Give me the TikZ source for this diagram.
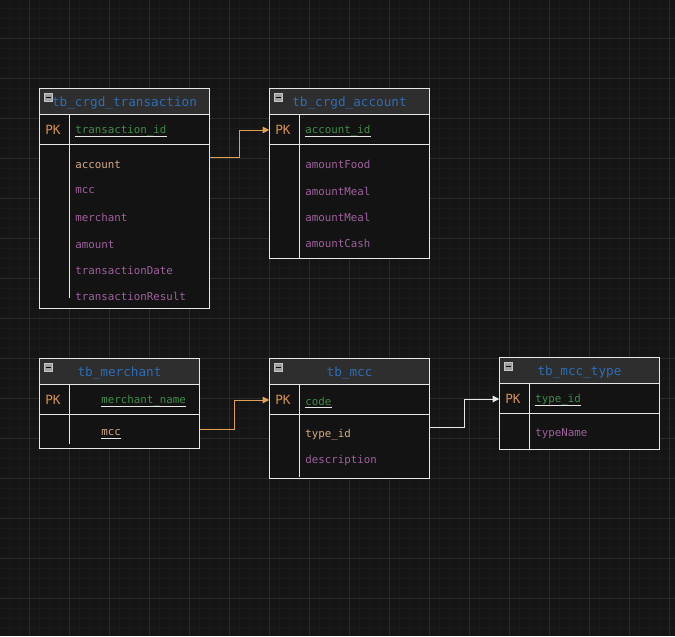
\documentclass[tikz,border=0pt]{standalone}
\usepackage{fontspec}
\setmonofont{DejaVu Sans Mono}
\usetikzlibrary{fit,arrows.meta}

\definecolor{bgcol}{HTML}{151515}
\definecolor{minorcol}{HTML}{1A1A1A}
\definecolor{majorcol}{HTML}{2A2A2A}
\definecolor{tablecol}{HTML}{131313}
\definecolor{headcol}{HTML}{2E2E2E}
\definecolor{rulecol}{HTML}{E8E8E8}
\definecolor{titlecol}{HTML}{2D6DB4}
\definecolor{pkcol}{HTML}{D6924A}
\definecolor{fkcol}{HTML}{D4AA7D}
\definecolor{fieldcol}{HTML}{A0609F}
\definecolor{keycol}{HTML}{3D8C47}
\definecolor{linkcol}{HTML}{E0A050}

\tikzset{
  tablebody/.style={inner sep=0pt,fill=tablecol},
  tablerule/.style={draw=rulecol,line width=0.75pt},
  headbar/.style={fill=headcol},
  title/.style={inner sep=0pt,font=\ttfamily\fontsize{9.5}{11}\selectfont,text=titlecol},
  pkmark/.style={anchor=west,inner sep=0pt,font=\ttfamily\fontsize{9.5}{11}\selectfont,text=pkcol},
  field/.style={anchor=west,inner sep=0pt,font=\ttfamily\fontsize{8.1}{10}\selectfont,text=fieldcol},
  keyfield/.style={field,text=keycol},
  fkfield/.style={field,text=fkcol},
  uline/.style={draw=rulecol,line width=0.6pt},
  minusbox/.style={fill=gray!75,draw=gray!45,line width=0.5pt},
  link/.style={draw=linkcol,line width=0.75pt,-{Triangle[length=5pt,width=5pt]}},
  whitelink/.style={link,draw=rulecol},
}

\begin{document}
\begin{tikzpicture}[x=0.75pt,y=0.75pt,yscale=-1,xscale=1]
    \useasboundingbox (0,0) rectangle (675,636);
    \fill[bgcol] (0,0) rectangle (675,636);

    % Grid
    \foreach \x in {9.5,19.5,...,669.5} \draw[minorcol,line width=0.5pt] (\x,0) -- (\x,636);
    \foreach \y in {8.5,18.5,...,628.5} \draw[minorcol,line width=0.5pt] (0,\y) -- (675,\y);
    \foreach \x in {29.5,69.5,...,669.5} \draw[majorcol,line width=0.75pt] (\x,0) -- (\x,636);
    \foreach \y in {38.5,78.5,...,618.5} \draw[majorcol,line width=0.75pt] (0,\y) -- (675,\y);

    % Table tb_crgd_transaction
    \node[tablebody,fit={(39.5,88.5) (209.5,308.5)}] (trans) {};
    \fill[headbar] (39.5,88.5) rectangle (209.5,114.5);
    \draw[tablerule] (39.5,114.5) -- (209.5,114.5) (39.5,144.5) -- (209.5,144.5) (69.5,114.5) -- (69.5,298);
    \draw[tablerule] (trans.north west) rectangle (trans.south east);
    \draw[minusbox] (44,93) rectangle (52,101);
    \draw[black,line width=0.75pt] (45.5,97) -- (50.5,97);
    % Text Node
    \node[title] (trans-title) at (124.5,103.5) {tb\_crgd\_transaction};
    \node[pkmark] (trans-pk) at (45,130) {PK};
    \node[keyfield] (trans-id) at (75,131) {transaction\_id};
    \draw[uline] ([yshift=2pt]trans-id.base west) -- ([yshift=2pt]trans-id.base east);
    \node[fkfield] (trans-account) at (75,164.5) {account};
    \node[field] (trans-mcc) at (75,191) {mcc};
    \node[field] (trans-merchant) at (75,217.5) {merchant};
    \node[field] (trans-amount) at (75,244.5) {amount};
    \node[field] (trans-date) at (75,270.5) {transactionDate};
    \node[field] (trans-result) at (75,296.5) {transactionResult};

    % Table tb_crgd_account
    \node[tablebody,fit={(269.5,88.5) (429.5,258.5)}] (acc) {};
    \fill[headbar] (269.5,88.5) rectangle (429.5,114.5);
    \draw[tablerule] (269.5,114.5) -- (429.5,114.5) (269.5,144.5) -- (429.5,144.5) (299.5,114.5) -- (299.5,258.5);
    \draw[tablerule] (acc.north west) rectangle (acc.south east);
    \draw[minusbox] (274,93) rectangle (282,101);
    \draw[black,line width=0.75pt] (275.5,97) -- (280.5,97);
    % Text Node
    \node[title] (acc-title) at (349.5,103.5) {tb\_crgd\_account};
    \node[pkmark] (acc-pk) at (275,130) {PK};
    \node[keyfield] (acc-id) at (305,131) {account\_id};
    \draw[uline] ([yshift=2pt]acc-id.base west) -- ([yshift=2pt]acc-id.base east);
    \node[field] (acc-food) at (305,164.5) {amountFood};
    \node[field] (acc-meal) at (305,191) {amountMeal};
    \node[field] (acc-meal2) at (305,217) {amountMeal};
    \node[field] (acc-cash) at (305,243) {amountCash};

    % Table tb_merchant
    \node[tablebody,fit={(39.5,358.5) (199.5,448.5)}] (merch) {};
    \fill[headbar] (39.5,358.5) rectangle (199.5,384.5);
    \draw[tablerule] (39.5,384.5) -- (199.5,384.5) (39.5,414.5) -- (199.5,414.5) (69.5,384.5) -- (69.5,444);
    \draw[tablerule] (merch.north west) rectangle (merch.south east);
    \draw[minusbox] (44,363) rectangle (52,371);
    \draw[black,line width=0.75pt] (45.5,367) -- (50.5,367);
    % Text Node
    \node[title] (merch-title) at (119.5,373.5) {tb\_merchant};
    \node[pkmark] (merch-pk) at (45,400) {PK};
    \node[keyfield] (merch-name) at (101,401) {merchant\_name};
    \draw[uline] ([yshift=2pt]merch-name.base west) -- ([yshift=2pt]merch-name.base east);
    \node[fkfield] (merch-mcc) at (101,432.5) {mcc};
    \draw[uline] ([yshift=2pt]merch-mcc.base west) -- ([yshift=2pt]merch-mcc.base east);

    % Table tb_mcc
    \node[tablebody,fit={(269.5,358.5) (429.5,478.5)}] (mcc) {};
    \fill[headbar] (269.5,358.5) rectangle (429.5,384.5);
    \draw[tablerule] (269.5,384.5) -- (429.5,384.5) (269.5,414.5) -- (429.5,414.5) (299.5,384.5) -- (299.5,476.5);
    \draw[tablerule] (mcc.north west) rectangle (mcc.south east);
    \draw[minusbox] (274,363) rectangle (282,371);
    \draw[black,line width=0.75pt] (275.5,367) -- (280.5,367);
    % Text Node
    \node[title] (mcc-title) at (349.5,373.5) {tb\_mcc};
    \node[pkmark] (mcc-pk) at (275,400) {PK};
    \node[keyfield] (mcc-code) at (305,401) {code};
    \draw[uline] ([yshift=2pt]mcc-code.base west) -- ([yshift=2pt]mcc-code.base east);
    \node[fkfield] (mcc-type) at (305,434.5) {type\_id};
    \node[field] (mcc-desc) at (305,460.5) {description};

    % Table tb_mcc_type
    \node[tablebody,fit={(499.5,357.5) (659.5,449.5)}] (type) {};
    \fill[headbar] (499.5,357.5) rectangle (659.5,383.5);
    \draw[tablerule] (499.5,383.5) -- (659.5,383.5) (499.5,413.5) -- (659.5,413.5) (529.5,383.5) -- (529.5,449.5);
    \draw[tablerule] (type.north west) rectangle (type.south east);
    \draw[minusbox] (504,362.5) rectangle (512,370.5);
    \draw[black,line width=0.75pt] (505.5,366.5) -- (510.5,366.5);
    % Text Node
    \node[title] (type-title) at (579.5,372.5) {tb\_mcc\_type};
    \node[pkmark] (type-pk) at (505,399) {PK};
    \node[keyfield] (type-id) at (535,400) {type\_id};
    \draw[uline] ([yshift=2pt]type-id.base west) -- ([yshift=2pt]type-id.base east);
    \node[field] (type-name) at (535,433.5) {typeName};

    % Links
    \coordinate (trans-account-port) at (209.5,157.5);
    \coordinate (merch-mcc-port) at (199.5,429.5);
    \coordinate (mcc-type-port) at (429.5,427.5);
    \draw[link] (trans-account-port) -- ++(30,0) |- (acc.west |- acc-pk);
    \draw[link] (merch-mcc-port) -- ++(35,0) |- (mcc.west |- mcc-pk);
    \draw[whitelink] (mcc-type-port) -- ++(35,0) |- (type.west |- type-pk);
\end{tikzpicture}
\end{document}
